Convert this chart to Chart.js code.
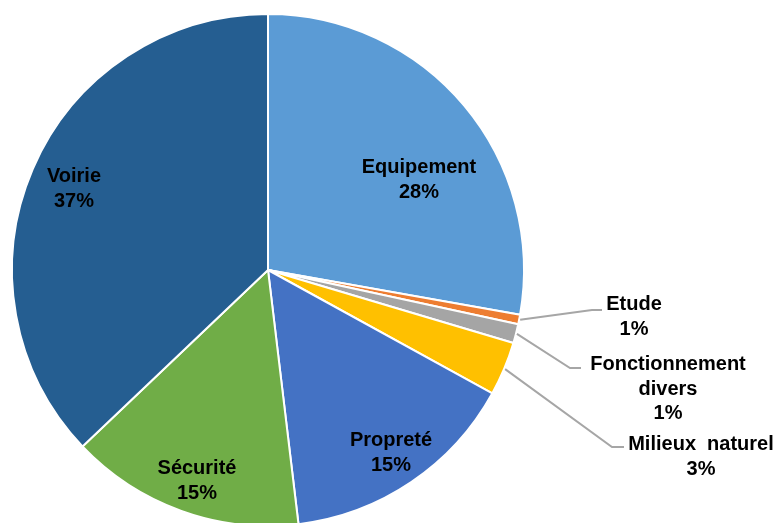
<!DOCTYPE html>
<html>
<head>
<meta charset="utf-8">
<script src="https://cdn.jsdelivr.net/npm/chart.js@4/dist/chart.umd.min.js"></script>
<style>
  html, body { margin: 0; padding: 0; background: #fff; overflow: hidden; }
  #wrap { width: 776px; height: 540px; }
</style>
</head>
<body>
<div id="wrap"><canvas id="pie" width="776" height="540"></canvas></div>
<script>
// Budget split by category (percent of total)
const categories = ['Equipement', 'Etude', 'Fonctionnement divers', 'Milieux  naturel', 'Propreté', 'Sécurité', 'Voirie'];
const shares = [27.8, 0.6, 1.2, 3.4, 15.1, 14.8, 37.1];
const sliceColors = ['#5B9BD5', '#ED7D31', '#A5A5A5', '#FFC000', '#4472C4', '#70AD47', '#255E91'];

// Label placement (x centre, first baseline) and leader line routes for outside labels
const labelLayout = [
  { x: 419, y: 173, lines: ['Equipement'] },
  { x: 634, y: 310, lines: ['Etude'], leader: [[592, 310], [602, 310]] },
  { x: 668, y: 370, lines: ['Fonctionnement', 'divers'], leader: [[570, 368], [581, 368]] },
  { x: 701, y: 450, lines: ['Milieux  naturel'], leader: [[612, 447], [624, 447]] },
  { x: 391, y: 446, lines: ['Propreté'] },
  { x: 197, y: 474, lines: ['Sécurité'] },
  { x: 74, y: 182, lines: ['Voirie'] },
];

const labelPlugin = {
  id: 'sliceLabels',
  afterDatasetsDraw(chart) {
    const ctx = chart.ctx;
    const meta = chart.getDatasetMeta(0);
    const data = chart.data.datasets[0].data;
    ctx.save();
    meta.data.forEach((arc, i) => {
      const spot = labelLayout[i];
      // Leader line from the slice's outer edge
      if (spot.leader) {
        const { x, y, startAngle, endAngle, outerRadius } = arc.getProps(['x', 'y', 'startAngle', 'endAngle', 'outerRadius'], true);
        const mid = (startAngle + endAngle) / 2;
        ctx.beginPath();
        ctx.moveTo(x + Math.cos(mid) * (outerRadius + 1), y + Math.sin(mid) * (outerRadius + 1));
        spot.leader.forEach(([lx, ly]) => ctx.lineTo(lx, ly));
        ctx.strokeStyle = '#A6A6A6';
        ctx.lineWidth = 2;
        ctx.stroke();
      }
      const text = spot.lines.concat([Math.round(data[i]) + '%']);
      ctx.fillStyle = '#000';
      ctx.font = 'bold 20px "Liberation Sans", Arial, sans-serif';
      ctx.textAlign = 'center';
      ctx.textBaseline = 'alphabetic';
      text.forEach((t, k) => ctx.fillText(t, spot.x, spot.y + k * 24.5));
    });
    ctx.restore();
  },
};

new Chart(document.getElementById('pie').getContext('2d'), {
  type: 'pie',
  data: {
    labels: categories,
    datasets: [{
      data: shares,
      backgroundColor: sliceColors,
      borderColor: '#ffffff',
      borderWidth: 2,
    }],
  },
  options: {
    responsive: false,
    animation: false,
    layout: { padding: { left: 11, top: 13, right: 251, bottom: 13 } },
    plugins: {
      legend: { display: false },
      tooltip: { enabled: false },
    },
  },
  plugins: [labelPlugin],
});
</script>
</body>
</html>
